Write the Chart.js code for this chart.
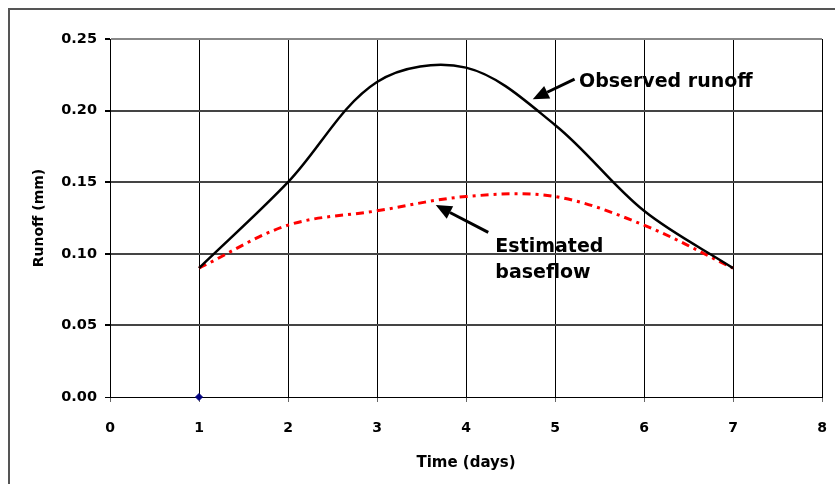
<!DOCTYPE html>
<html>
<head>
<meta charset="utf-8">
<script src="https://cdn.jsdelivr.net/npm/chart.js@4.4.1/dist/chart.umd.min.js"></script>
<style>
  html, body { margin: 0; padding: 0; background: #fff; overflow: hidden; }
  #wrap { position: relative; width: 835px; height: 484px; }
  #frame { position: absolute; left: 8px; top: 8px; width: 900px; height: 600px;
           border-left: 2px solid #555; border-top: 2px solid #555; }
  canvas { position: absolute; left: 0; top: 0; }
</style>
</head>
<body>
<div id="wrap">
  <div id="frame"></div>
  <canvas id="chart" width="835" height="484"></canvas>
</div>
<script>
const days = [1, 2, 3, 4, 5, 6, 7];
const observedRunoff = [0.09, 0.15, 0.22, 0.23, 0.19, 0.13, 0.09];
const estimatedBaseflow = [0.09, 0.12, 0.13, 0.14, 0.14, 0.12, 0.09];
const originPoint = [{ x: 1, y: 0 }];

const xTicks = [0, 1, 2, 3, 4, 5, 6, 7, 8];
const yTicks = [0, 0.05, 0.10, 0.15, 0.20, 0.25];

const toPoints = (xs, ys) => xs.map((x, i) => ({ x: x, y: ys[i] }));

// Arrow + label annotations, anchored in data units
const notes = [
  { lines: ['Observed runoff'], x: 5.27, y: 0.2165, tail: [5.22, 0.222], tip: [4.75, 0.208] },
  { lines: ['Estimated', 'baseflow'], x: 4.33, y: 0.1013, tail: [4.25, 0.115], tip: [3.66, 0.134] }
];

const notesPlugin = {
  id: 'notes',
  afterDatasetsDraw(chart) {
    const { ctx, scales: { x, y } } = chart;
    ctx.save();
    notes.forEach(n => {
      const x1 = x.getPixelForValue(n.tail[0]), y1 = y.getPixelForValue(n.tail[1]);
      const x2 = x.getPixelForValue(n.tip[0]), y2 = y.getPixelForValue(n.tip[1]);
      const ang = Math.atan2(y2 - y1, x2 - x1);
      const headLen = 16, headW = 7;
      const bx = x2 - headLen * Math.cos(ang), by = y2 - headLen * Math.sin(ang);
      ctx.strokeStyle = '#000';
      ctx.fillStyle = '#000';
      ctx.lineWidth = 3;
      ctx.beginPath();
      ctx.moveTo(x1, y1);
      ctx.lineTo(bx, by);
      ctx.stroke();
      ctx.beginPath();
      ctx.moveTo(x2, y2);
      ctx.lineTo(bx + headW * Math.sin(ang), by - headW * Math.cos(ang));
      ctx.lineTo(bx - headW * Math.sin(ang), by + headW * Math.cos(ang));
      ctx.closePath();
      ctx.fill();

      ctx.font = 'bold 19px "DejaVu Sans"';
      ctx.textAlign = 'left';
      ctx.textBaseline = 'alphabetic';
      const tx = x.getPixelForValue(n.x), ty = y.getPixelForValue(n.y);
      n.lines.forEach((t, i) => ctx.fillText(t, tx, ty + i * 26));
    });
    ctx.restore();
  }
};

const ctx = document.getElementById('chart').getContext('2d');
const chart = new Chart(ctx, {
  type: 'scatter',
  data: {
    datasets: [
      {
        label: 'Observed runoff',
        data: toPoints(days, observedRunoff),
        showLine: true,
        borderColor: '#000',
        borderWidth: 2.5,
        tension: 0.34,
        pointRadius: 0,
        order: 1
      },
      {
        label: 'Estimated baseflow',
        data: toPoints(days, estimatedBaseflow),
        showLine: true,
        borderColor: '#ff0000',
        borderWidth: 3,
        borderDash: [8, 5, 3, 5],
        tension: 0.34,
        pointRadius: 0,
        order: 2
      },
      {
        label: 'origin',
        data: originPoint,
        showLine: false,
        clip: false,
        pointStyle: 'rectRot',
        pointRadius: 3.5,
        backgroundColor: '#000080',
        borderColor: '#000080',
        order: 0
      }
    ]
  },
  options: {
    responsive: false,
    animation: false,
    layout: { padding: { top: 39, right: 13, left: 0, bottom: 0 } },
    plugins: {
      legend: { display: false },
      tooltip: { enabled: false }
    },
    scales: {
      x: {
        type: 'linear',
        min: 0, max: 8,
        afterBuildTicks: s => { s.ticks = xTicks.map(v => ({ value: v })); },
        afterFit: s => { s.height = 87; s.paddingRight = 0; s.paddingLeft = 0; },
        grid: {
          color: '#000',
          lineWidth: 1,
          tickLength: 5,
          tickColor: '#666'
        },
        border: { color: '#000', width: 1 },
        ticks: {
          color: '#000',
          padding: 18,
          maxRotation: 0,
          font: { family: 'DejaVu Sans', size: 14, weight: 'bold' },
          callback: v => String(v)
        },
        title: {
          display: true,
          text: 'Time (days)',
          color: '#000',
          font: { family: 'DejaVu Sans', size: 15, weight: 'bold' },
          padding: { top: 0, bottom: 12 }
        }
      },
      y: {
        type: 'linear',
        min: 0, max: 0.25,
        afterBuildTicks: s => { s.ticks = yTicks.map(v => ({ value: v })); },
        afterFit: s => { s.width = 110; },
        grid: {
          color: ctx => ctx.tick && ctx.tick.value === 0 ? '#000' : (ctx.tick && ctx.tick.value === 0.25 ? '#888' : '#444'),
          lineWidth: ctx => ctx.tick && ctx.tick.value === 0 ? 1 : 2,
          tickLength: 5,
          tickColor: '#000'
        },
        border: { color: '#000', width: 1 },
        ticks: {
          color: '#000',
          padding: 8,
          font: { family: 'DejaVu Sans', size: 14.5, weight: 'bold' },
          callback: v => v.toFixed(2)
        },
        title: {
          display: true,
          text: 'Runoff (mm)',
          color: '#000',
          font: { family: 'DejaVu Sans', size: 14, weight: 'bold' },
          padding: { top: 31, bottom: 31 }
        }
      }
    }
  },
  plugins: [notesPlugin]
});
</script>
</body>
</html>
